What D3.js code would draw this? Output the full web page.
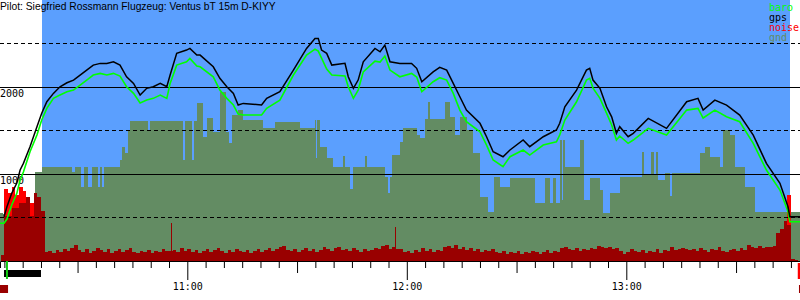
<!DOCTYPE html>
<html>
<head>
<meta charset="utf-8">
<script src="https://cdn.jsdelivr.net/npm/d3@7"></script>
<style>
body { margin: 0; background: #fff; }
svg { display: block; }
</style>
</head>
<body>
<script>
var title = "Pilot: Siegfried Rossmann Flugzeug: Ventus bT 15m D-KIYY";

// all times are minutes after 10:00
var fixTime = [8.8, 9.9, 10.7, 12.0, 13.4, 14.3, 15.2, 17.0, 18.9, 20.2, 21.6, 23.4, 25.2, 27.1, 28.9, 30.7, 32.5, 34.3, 36.2, 38.0, 39.8,
    41.6, 43.4, 45.3, 47.1, 48.9, 50.7, 52.6, 54.4, 55.3, 57.1, 59.8, 60.7, 62.6, 63.5, 67.1, 68.9, 70.8, 72.6, 73.9, 75.3,
    80.3, 81.7, 85.3, 89.0, 92.6, 94.9, 95.8, 96.7, 98.1, 99.5, 103.1, 104.0, 105.4, 106.7, 108.1, 111.3, 112.7, 114.0, 115.4, 118.1,
    121.3, 122.7, 124.1, 127.2, 129.0, 130.9, 132.7, 134.5, 136.3, 140.0, 141.8, 143.6, 146.3, 148.2, 151.8, 153.6, 157.3, 160.9, 161.8, 163.2,
    166.4, 169.1, 170.0, 170.9, 172.8, 174.6, 176.0, 177.3, 178.2, 180.5, 181.9, 186.0, 191.0, 196.5, 199.6, 201.0, 204.2, 207.4, 211.0, 214.7,
    218.3, 222.0, 224.2, 224.7, 227.5];

var gpsAlt = [null, 512, 627, 781, 900, 1049, 1126, 1317, 1547, 1701, 1834, 1930, 2006, 2052, 2083, 2141, 2198, 2255, 2275, 2275, 2293,
    2255, 2121, 2045, 1911, 1988, 2006, 2045, 2006, 2141, 2390, 2428, 2447, 2370, 2370, 2236, 2103, 2006, 1930, 1796, 1815,
    1796, 1873, 1949, 2198, 2447, 2562, 2562, 2428, 2390, 2255, 2275, 2121, 1988, 2083, 2293, 2447, 2408, 2485, 2293, 2275,
    2275, 2218, 2064, 2178, 2229, 2198, 2045, 1891, 1738, 1586, 1432, 1259, 1202, 1279, 1394, 1317, 1432, 1509, 1586, 1776,
    1968, 2198, 2218, 2083, 1988, 1776, 1661, 1471, 1547, 1432, 1471, 1643, 1528, 1834, 1873, 1738, 1853, 1796, 1681, 1451,
    1126, 896, 627, 512, 512];

var baroAlt = [437, 437, 486, 647, 781, 934, 1026, 1259, 1451, 1624, 1758, 1873, 1911, 1949, 1968, 2026, 2083, 2141, 2160, 2141, 2160,
    2129, 2006, 1930, 1819, 1853, 1873, 1911, 1873, 2045, 2255, 2293, 2332, 2244, 2236, 2121, 1968, 1873, 1796, 1692, 1681,
    1681, 1758, 1853, 2141, 2370, 2439, 2416, 2336, 2210, 2141, 2129, 2006, 1873, 1968, 2178, 2301, 2290, 2359, 2198, 2121,
    2160, 2118, 1949, 2064, 2110, 2083, 1930, 1738, 1604, 1489, 1336, 1164, 1087, 1202, 1279, 1221, 1336, 1374, 1451, 1624,
    1834, 2083, 2103, 1991, 1873, 1704, 1566, 1394, 1440, 1356, 1394, 1528, 1451, 1738, 1758, 1647, 1738, 1661, 1604, 1356,
    1049, 819, 570, 455, 455];

var gndTime = [8.8, 9.6, 14.3, 18.4, 20.3, 28.5, 29.3, 31.0, 31.8, 32.9, 34.0, 35.6, 36.2, 36.7, 37.2, 41.6, 42.2, 43.0, 43.8, 44.4,
    49.3, 49.8, 58.8, 59.4, 61.3, 61.8, 62.7, 64.3, 65.4, 67.0, 68.9, 70.6, 71.4, 72.2, 73.9, 75.2, 80.7, 84.0, 90.8, 94.9,
    95.2, 95.4, 96.3, 98.2, 99.8, 102.5, 103.1, 104.5, 105.3, 108.6, 109.1, 114.0, 114.8, 115.4, 115.9, 118.1, 118.9, 122.8, 123.6, 124.9,
    125.8, 126.3, 130.4, 131.8, 133.1, 134.5, 136.4, 138.1, 140.0, 142.2, 143.8, 145.4, 148.2, 155.0, 157.8, 159.1, 159.9, 160.7, 161.8, 162.4,
    162.6, 163.2, 167.3, 168.4, 170.0, 172.8, 173.6, 175.5, 178.2, 184.2, 184.8, 186.7, 187.5, 188.1, 188.6, 190.5, 191.9, 192.4, 200.1, 201.5,
    202.8, 205.5, 206.4, 208.3, 209.6, 212.4, 215.1, 227.5];

var gndAlt = [558, 543, 600, 1026, 1087, 1029, 1087, 857, 1087, 857, 1087, 857, 1087, 857, 1087, 1164, 1317, 1244, 1509, 1618,
    1509, 1618, 1164, 1618, 1164, 1618, 1815, 1432, 1647, 1489, 1949, 1489, 1359, 1681, 1738, 1624, 1528, 1604, 1528, 1624,
    1187, 1624, 1317, 1183, 1087, 1210, 1087, 831, 1087, 1210, 1087, 972, 785, 972, 1221, 1374, 1528, 1451, 1417, 1635,
    1834, 1635, 1834, 1661, 1451, 1661, 1509, 1241, 742, 570, 972, 857, 957, 666, 957, 666, 957, 666, 1394, 704,
    1394, 1087, 1394, 704, 957, 819, 555, 785, 972, 1259, 992, 1259, 992, 1259, 934, 1011, 750, 1011, 1241, 1317,
    1202, 1087, 1509, 1451, 1087, 857, 570, 570];

// one noise sample per minute, starting at minute 9
var noiseStart = 9;
var noise = [69, 518, 518, 610, 610, 667, 667, 736, 518, 782, 736, 575,
    104, 115, 92, 127, 104, 138, 115, 150, 184, 127,
    104, 138, 92, 115, 150, 127, 104, 138, 92, 115,
    138, 104, 127, 150, 104, 92, 115, 104, 127, 92,
    115, 104, 138, 115, 115, 127, 104, 150, 115, 138,
    104, 127, 92, 115, 138, 104, 127, 150, 115, 92,
    127, 104, 138, 115, 104, 127, 92, 115, 138, 104,
    127, 150, 115, 138, 161, 173, 127, 115, 138, 104,
    127, 150, 115, 138, 104, 127, 161, 138, 115, 150,
    161, 127, 138, 115, 150, 127, 104, 138, 115, 127,
    150, 138, 173, 184, 138, 161, 138, 138, 104, 115,
    92, 127, 104, 150, 115, 138, 104, 127, 115, 161,
    173, 150, 184, 138, 161, 127, 150, 115, 138, 104,
    127, 115, 138, 104, 92, 115, 81, 104, 92, 115,
    81, 104, 92, 115, 104, 81, 104, 127, 92, 115,
    104, 150, 161, 138, 127, 150, 115, 138, 127, 150,
    138, 173, 161, 150, 161, 138, 150, 115, 81, 104,
    138, 115, 104, 127, 92, 115, 104, 138, 92, 127,
    115, 161, 127, 138, 150, 138, 127, 138, 115, 150,
    127, 104, 138, 127, 161, 115, 104, 127, 138, 115,
    150, 127, 184, 161, 150, 173, 150, 161, 161, 173,
    322, 368, 460, 414, 23, 12, 0];

// single-fix noise spikes
var spikeTime = [55.55, 116.8];
var spikeVal = [437, 391];

var peakTime = [10, 11, 12, 13, 14, 15, 16, 17, 18, 224];
var peakVal = [828, 782, 851, 759, 851, 805, 713, 667, 644, 759];

var gridLevels = [500, 1000, 1500, 2000, 2500];
var labelLevels = [1000, 2000];
var flight = [20.28, 224.77];
var engineRun = [9.9, 20.0];
var takeoff = 10.7;
var landing = 226.87;
var enlMarks = [[8.8, 11.0], [227.2, 227.5]];

var legendNames = ["baro", "gps", "noise", "gnd"];
var legendColors = ["#00ff00", "#000000", "#ff0000", "#638c63"];

var W = 800, H = 300;
var mono = "'DejaVu Sans Mono', monospace";

var day = new Date(2000, 0, 1, 10, 0, 0);
function at(m) {
    return new Date(+day + m * 60000);
}

var x = d3.scaleTime()
    .domain([at(8.8), at(227.48)])
    .range([0, W]);

var y = d3.scaleLinear()
    .domain([0, 3000])
    .range([261.3, 0.3]);

var svg = d3.select("body").append("svg")
    .attr("width", W)
    .attr("height", H)
    .style("background", "#fff");

// blue = in the air
svg.append("rect")
    .attr("x", x(at(flight[0])))
    .attr("y", 0)
    .attr("width", x(at(flight[1])) - x(at(flight[0])))
    .attr("height", 261)
    .attr("fill", "#5b9ffe")
    .attr("shape-rendering", "crispEdges");

var gnd = gndTime.map((t, i) => ({ t: t, v: gndAlt[i] }));

svg.append("path")
    .datum(gnd)
    .attr("fill", "#638c63")
    .attr("shape-rendering", "crispEdges")
    .attr("d", d3.area()
        .curve(d3.curveStepAfter)
        .x(d => x(at(d.t)))
        .y0(y(0))
        .y1(d => y(d.v)));

function bars(data, color, width) {
    svg.append("g").selectAll("rect")
        .data(data)
        .enter().append("rect")
            .attr("x", d => x(at(d.t)))
            .attr("y", d => y(d.v))
            .attr("width", d => Math.max(1, x(at(d.t + width)) - x(at(d.t))))
            .attr("height", d => y(0) - y(d.v))
            .attr("fill", color)
            .attr("shape-rendering", "crispEdges");
}

bars(peakTime.map((t, i) => ({ t: t, v: peakVal[i] })), "#ff0000", 1);
bars(noise.map((v, i) => ({ t: noiseStart + i, v: v })), "#990000", 1);
bars(spikeTime.map((t, i) => ({ t: t, v: spikeVal[i] })), "#990000", 0.2);

// grid
svg.append("g").selectAll("line")
    .data(gridLevels)
    .enter().append("line")
        .attr("x1", 0)
        .attr("x2", W)
        .attr("y1", d => Math.floor(y(d)) + 0.5)
        .attr("y2", d => Math.floor(y(d)) + 0.5)
        .attr("stroke", "#000")
        .attr("stroke-width", 1)
        .attr("stroke-dasharray", d => d % 1000 === 0 ? null : "4,3");

svg.append("g").selectAll("text")
    .data(labelLevels)
    .enter().append("text")
        .attr("x", 0)
        .attr("y", d => Math.floor(y(d)) + 10)
        .style("font-family", mono)
        .style("font-size", "10px")
        .attr("fill", "#000")
        .text(d => d);

// tracks
var fixes = fixTime.map((t, i) => ({ t: t, gps: gpsAlt[i], baro: baroAlt[i] }));

svg.append("path")
    .datum(fixes)
    .attr("fill", "none")
    .attr("stroke", "#00ff00")
    .attr("stroke-width", 1.6)
    .attr("d", d3.line()
        .x(d => x(at(d.t)))
        .y(d => y(d.baro)));

svg.append("path")
    .datum(fixes)
    .attr("fill", "none")
    .attr("stroke", "#000")
    .attr("stroke-width", 1.5)
    .attr("d", d3.line()
        .defined(d => d.gps != null)
        .x(d => x(at(d.t)))
        .y(d => y(d.gps)));

// time axis
var hhmm = d3.timeFormat("%H:%M");
var axis = svg.append("g")
    .attr("transform", "translate(0,261)")
    .call(d3.axisBottom(x)
        .ticks(d3.timeMinute.every(5))
        .tickSizeOuter(0)
        .tickSize(7)
        .tickFormat(d => d.getMinutes() === 0 ? hhmm(d) : ""));

axis.selectAll(".tick line")
    .attr("y2", d => d.getMinutes() === 0 ? 19 : (d.getMinutes() === 30 ? 12 : 7));

axis.selectAll(".tick text")
    .attr("y", 22)
    .style("font-family", mono)
    .style("font-size", "10px");

// event marks under the axis
svg.append("rect")
    .attr("x", x(at(engineRun[0])))
    .attr("y", 270)
    .attr("width", x(at(engineRun[1])) - x(at(engineRun[0])))
    .attr("height", 7)
    .attr("fill", "#000");

svg.append("rect")
    .attr("x", x(at(takeoff)) - 1)
    .attr("y", 261)
    .attr("width", 2)
    .attr("height", 18)
    .attr("fill", "#11cc11");

svg.append("rect")
    .attr("x", x(at(landing)))
    .attr("y", 263)
    .attr("width", W - x(at(landing)))
    .attr("height", 16)
    .attr("fill", "#ff0000");

svg.append("g").selectAll("rect")
    .data(enlMarks)
    .enter().append("rect")
        .attr("x", d => x(at(d[0])))
        .attr("y", 285)
        .attr("width", d => Math.max(1, x(at(d[1])) - x(at(d[0]))))
        .attr("height", 8)
        .attr("fill", "#990000");

// legend + title
svg.append("g").selectAll("text")
    .data(legendNames)
    .enter().append("text")
        .attr("x", 769)
        .attr("y", (d, i) => 11 + i * 10)
        .style("font-family", mono)
        .style("font-size", "10px")
        .attr("fill", (d, i) => legendColors[i])
        .text(d => d);

svg.append("text")
    .attr("x", 0)
    .attr("y", 10)
    .style("font-family", "'Liberation Sans', Arial, sans-serif")
    .style("font-size", "10.3px")
    .attr("fill", "#000")
    .text(title);
</script>
</body>
</html>
